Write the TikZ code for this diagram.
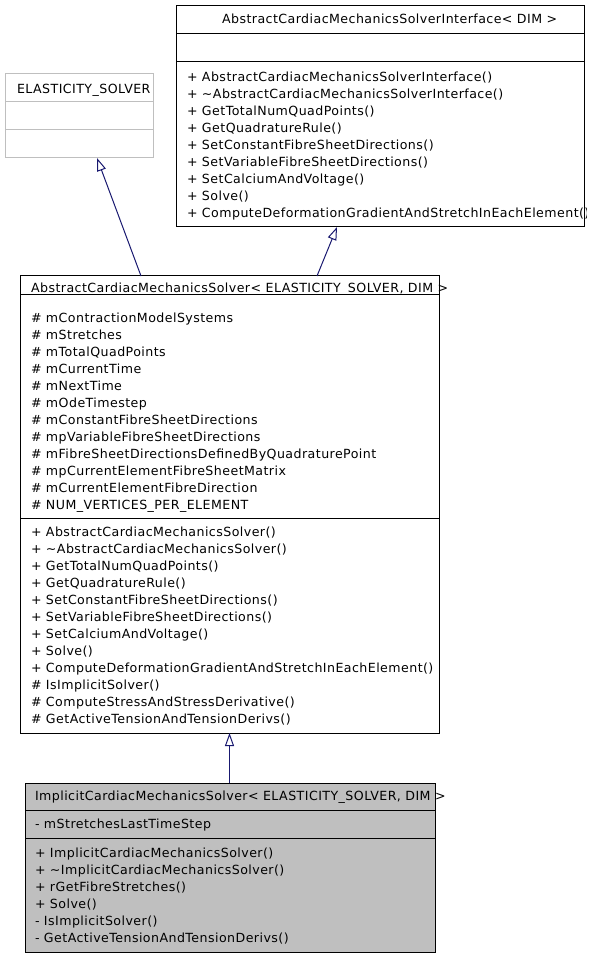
\documentclass[tikz,border=0pt]{standalone}
\usepackage{fontspec}
\setmainfont{DejaVu Sans}[LetterSpace=3.5]
\usetikzlibrary{arrows.meta,calc}
\definecolor{edgeblue}{HTML}{191970}
\definecolor{boxgray}{HTML}{BFBFBF}
\definecolor{tplgray}{HTML}{BFBFBF}
\begin{document}
\begin{tikzpicture}[x=1pt,y=-1pt,
  umlbox/.style={draw=black,line width=1pt,rectangle,inner sep=0pt,outer sep=0pt,anchor=north west},
  tplbox/.style={umlbox,draw=tplgray},
  curbox/.style={umlbox,fill=boxgray},
  txt/.style={anchor=base west,inner sep=0pt,outer sep=0pt,font=\fontsize{12.6}{15}\selectfont},
  inh/.style={draw=edgeblue,line width=1pt,-{Triangle[open,length=13pt,width=9pt]}}]
\useasboundingbox (0,0) rectangle (589,957);

% ELASTICITY_SOLVER template parameter
\node[tplbox,minimum width=148pt,minimum height=84pt] (elas) at (5,74) {};
\draw[tplgray,line width=1pt] ($(elas.north west)+(0,28)$) -- ($(elas.north east)+(0,28)$);
\draw[tplgray,line width=1pt] ($(elas.north west)+(0,56)$) -- ($(elas.north east)+(0,56)$);
\node[txt] (elastitle) at (17,94) {ELASTICITY\_SOLVER};

% Interface
\node[umlbox,minimum width=408pt,minimum height=221pt] (iface) at (176,6) {};
\draw[line width=1pt] ($(iface.north west)+(0,28)$) -- ($(iface.north east)+(0,28)$);
\draw[line width=1pt] ($(iface.north west)+(0,56)$) -- ($(iface.north east)+(0,56)$);
\node[txt] (ifacetitle) at (222,24) {AbstractCardiacMechanicsSolverInterface< DIM >};
\begin{scope}
\clip (176,6) rectangle (586,227);
\foreach \t [count=\i] in {
  + AbstractCardiacMechanicsSolverInterface(),
  + \textasciitilde AbstractCardiacMechanicsSolverInterface(),
  + GetTotalNumQuadPoints(),
  + GetQuadratureRule(),
  + SetConstantFibreSheetDirections(),
  + SetVariableFibreSheetDirections(),
  + SetCalciumAndVoltage(),
  + Solve(),
  + ComputeDeformationGradientAndStretchInEachElement()}
  \node[txt] (ifacem\i) at (187,{82+17*(\i-1)}) {\t};
\end{scope}

% AbstractCardiacMechanicsSolver
\node[umlbox,minimum width=419pt,minimum height=457pt] (acms) at (20,276) {};
\draw[line width=1pt] ($(acms.north west)+(0,18)$) -- ($(acms.north east)+(0,18)$);
\draw[line width=1pt] ($(acms.north west)+(0,242)$) -- ($(acms.north east)+(0,242)$);
\node[txt] (acmstitle) at (31,292.5) {AbstractCardiacMechanicsSolver< ELASTICITY\_SOLVER, DIM >};
\foreach \t [count=\i] in {
  \# mContractionModelSystems,
  \# mStretches,
  \# mTotalQuadPoints,
  \# mCurrentTime,
  \# mNextTime,
  \# mOdeTimestep,
  \# mConstantFibreSheetDirections,
  \# mpVariableFibreSheetDirections,
  \# mFibreSheetDirectionsDefinedByQuadraturePoint,
  \# mpCurrentElementFibreSheetMatrix,
  \# mCurrentElementFibreDirection,
  \# NUM\_VERTICES\_PER\_ELEMENT}
  \node[txt] (acmsa\i) at (31,{322+17*(\i-1)}) {\t};
\foreach \t [count=\i] in {
  + AbstractCardiacMechanicsSolver(),
  + \textasciitilde AbstractCardiacMechanicsSolver(),
  + GetTotalNumQuadPoints(),
  + GetQuadratureRule(),
  + SetConstantFibreSheetDirections(),
  + SetVariableFibreSheetDirections(),
  + SetCalciumAndVoltage(),
  + Solve(),
  + ComputeDeformationGradientAndStretchInEachElement(),
  \# IsImplicitSolver(),
  \# ComputeStressAndStressDerivative(),
  \# GetActiveTensionAndTensionDerivs()}
  \node[txt] (acmsm\i) at (31,{536+17*(\i-1)}) {\t};

% ImplicitCardiacMechanicsSolver
\node[curbox,minimum width=410pt,minimum height=169pt] (impl) at (25,783) {};
\draw[line width=1pt] ($(impl.north west)+(0,27)$) -- ($(impl.north east)+(0,27)$);
\draw[line width=1pt] ($(impl.north west)+(0,55)$) -- ($(impl.north east)+(0,55)$);
\node[txt] (impltitle) at (35,800) {ImplicitCardiacMechanicsSolver< ELASTICITY\_SOLVER, DIM >};
\node[txt] (impla1) at (35,828) {- mStretchesLastTimeStep};
\foreach \t [count=\i] in {
  + ImplicitCardiacMechanicsSolver(),
  + \textasciitilde ImplicitCardiacMechanicsSolver(),
  + rGetFibreStretches(),
  + Solve(),
  - IsImplicitSolver(),
  - GetActiveTensionAndTensionDerivs()}
  \node[txt] (implm\i) at (35,{857+17*(\i-1)}) {\t};

% Inheritance connectors
\draw[inh] ($(acms.north west)+(121,0)$) -- ($(elas.south west)+(92,0)$);
\draw[inh] ($(acms.north west)+(297,0)$) -- ($(iface.south west)+(161,0)$);
\draw[inh] ($(impl.north west)+(204.5,0)$) -- ($(acms.south west)+(209.5,0)$);
\end{tikzpicture}
\end{document}
